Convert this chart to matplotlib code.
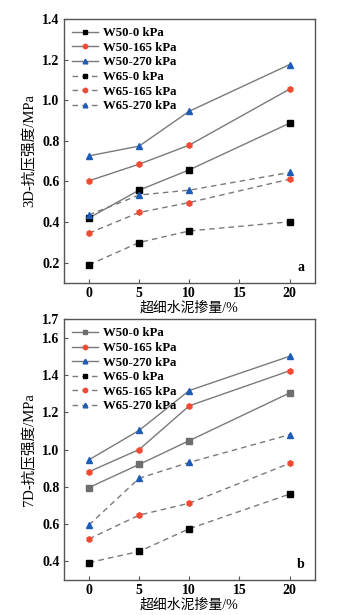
import matplotlib
matplotlib.use('Agg')
import matplotlib.pyplot as plt

plt.rcParams['font.family'] = ['Liberation Serif', 'Noto Sans CJK SC']

dosage = [0, 5, 10, 20]
labels = ['W50-0 kPa', 'W50-165 kPa', 'W50-270 kPa', 'W65-0 kPa', 'W65-165 kPa', 'W65-270 kPa']

# 3-day strength (MPa)
d3 = [
    [0.42, 0.557, 0.657, 0.887],
    [0.603, 0.685, 0.779, 1.055],
    [0.726, 0.774, 0.946, 1.176],
    [0.189, 0.299, 0.356, 0.401],
    [0.345, 0.447, 0.496, 0.611],
    [0.435, 0.533, 0.557, 0.644],
]

# 7-day strength (MPa)
d7 = [
    [0.796, 0.920, 1.048, 1.304],
    [0.881, 1.000, 1.235, 1.423],
    [0.945, 1.103, 1.317, 1.501],
    [0.393, 0.453, 0.575, 0.761],
    [0.520, 0.648, 0.712, 0.926],
    [0.595, 0.846, 0.931, 1.080],
]

line_col = '#7a7a7a'
red = '#f04a32'
blue = '#1d5cb6'

fig = plt.figure(figsize=(3.47, 6.15), dpi=100)
ax1 = fig.add_axes([0.184, 0.540, 0.723, 0.429])
ax2 = fig.add_axes([0.184, 0.057, 0.723, 0.424])


def draw(ax, data, first_col, ylabel, ylim, yticks, tag):
    styles = [
        ('s', first_col), ('h', red), ('^', blue),
        ('s', 'black'), ('h', red), ('^', blue),
    ]
    for i, (vals, lab) in enumerate(zip(data, labels)):
        m, c = styles[i]
        ls = '-' if i < 3 else (0, (4, 3))
        ax.plot(dosage, vals, color=line_col, lw=1.0, ls=ls, marker=m,
                ms=4, mfc=c, mec=c, label=lab)
    ax.set_xlim(-2.5, 22.5)
    ax.set_ylim(*ylim)
    ax.set_xticks([0, 5, 10, 15, 20])
    ax.set_yticks(yticks)
    ax.set_yticklabels(['%.1f' % t for t in yticks])
    ax.tick_params(direction='in', length=3, width=0.8, color='#555555',
                   labelsize=10, pad=3)
    for t in ax.get_xticklabels() + ax.get_yticklabels():
        t.set_fontweight('bold')
    for s in ax.spines.values():
        s.set_color('#555555')
        s.set_linewidth(1.0)
    ax.set_xlabel('超细水泥掺量/%', fontsize=10, labelpad=1)
    ax.set_ylabel(ylabel, fontsize=10.5, labelpad=4)
    ax.text(0.945, 0.06, tag, transform=ax.transAxes, fontsize=10,
            fontweight='bold', ha='center', va='center')
    ax.legend(loc='upper left', frameon=False,
              prop={'size': 9.2, 'weight': 'bold'}, handlelength=2.0,
              handletextpad=0.4, labelspacing=0.2, borderaxespad=0.25,
              markerscale=0.85)


draw(ax1, d3, 'black', '3D-抗压强度/MPa', (0.1, 1.4),
     [0.2, 0.4, 0.6, 0.8, 1.0, 1.2, 1.4], 'a')
draw(ax2, d7, '#6e6e6e', '7D-抗压强度/MPa', (0.3, 1.7),
     [0.4, 0.6, 0.8, 1.0, 1.2, 1.4, 1.6, 1.7], 'b')

fig.savefig('out.png', dpi=100)
